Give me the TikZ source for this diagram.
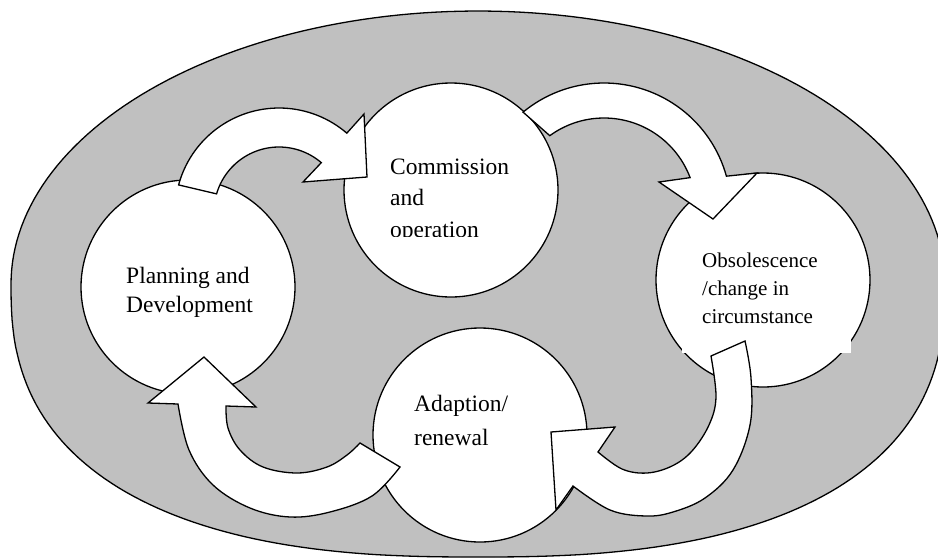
\documentclass[tikz,border=0pt]{standalone}
\usepackage{fontspec}
\setmainfont{Liberation Serif}
\definecolor{ringgray}{RGB}{192,192,192}
\begin{document}
\begin{tikzpicture}[x=1pt,y=-1pt,
  stage/.style={circle, draw=black, fill=white, line width=1.3pt, minimum size=214pt, inner sep=0pt},
  loop arrow/.style={draw=black, fill=white, line width=1.3pt, line join=miter},
  label text/.style={anchor=base west, inner sep=0pt, font=\fontsize{23.5}{28}\selectfont},
  small text/.style={label text, font=\fontsize{21}{25}\selectfont}]
\useasboundingbox (0,0) rectangle (938,558);

% outer grey ring: elliptic upper half, slightly fuller lower half
\draw[fill=ringgray, line width=1.3pt]
  plot[domain=180:360, samples=120, variable=\t] ({478+467*cos(\t)},{284+273*sin(\t)})
  -- plot[domain=0:180, samples=120, variable=\t]
     ({478+467*ifthenelse(cos(\t)<0,-1,1)*pow(abs(cos(\t))+0.000001,0.8)},
      {284+273*pow(abs(sin(\t))+0.000001,0.8)})
  -- cycle;

% the four stages
\node[stage] (plan)  at (188,287) {};
\node[stage] (comm)  at (451,190) {};
\node[stage] (obs)   at (763,280) {};
\node[stage] (adapt) at (480,435) {};

% white text frame of the obsolescence label
\fill[white] (682,240) rectangle (851,353);

% planning -> commission
\filldraw[loop arrow]
  plot[domain=195.1:310.7, samples=50, variable=\t] ({279+104*cos(\t)},{212+104*sin(\t)})
  -- (364,114) -- (367,177) -- (303,182)
  -- plot[domain=310.6:196.2, samples=50, variable=\t] ({279+65*cos(\t)},{212+65*sin(\t)})
  -- cycle;

% commission -> obsolescence
\filldraw[loop arrow]
  plot[domain=230.4:344.55, samples=50, variable=\t] ({604+127*cos(\t)},{210+127*sin(\t)})
  -- (757,173) -- (713,219) -- (659,182)
  -- plot[domain=339.4:233.9, samples=50, variable=\t] ({604+92*cos(\t)},{210+92*sin(\t)})
  -- cycle;

% obsolescence -> adaption
\filldraw[loop arrow]
  plot[smooth, tension=0.6] coordinates {(745,341) (751,378) (750,425) (733,470) (705,498) (673,512) (646,516) (610,510) (573,486)}
  -- (556,510) -- (551,432) -- (615,427)
  -- plot[smooth, tension=0.6] coordinates {(598,452) (622,469) (647,473) (672,466) (692,451) (709,425) (716,397) (711,356)}
  -- cycle;

% adaption -> planning
\filldraw[loop arrow]
  plot[smooth, tension=0.6] coordinates {(400,467) (372,496) (330,512) (290,517) (250,508) (213,485) (189,450) (178,404)}
  -- (148,403) -- (204,357) -- (256,407)
  -- plot[smooth, tension=0.6] coordinates {(226,406) (228,428) (240,450) (263,467) (297,473) (327,467) (347,455) (360,443)}
  -- cycle;

% labels
\node[label text] (comm1) at (390,174) {Commission};
\node[label text] (comm2) at (390,205) {and};
\begin{scope}
  \clip (380,212) rectangle (560,236);
  \node[label text] (comm3) at (390,237) {operation};
\end{scope}
\node[label text] (plan1) at (126,283) {Planning and};
\node[label text] (plan2) at (126,312) {Development};
\node[small text] (obs1) at (702,267) {Obsolescence};
\node[small text] (obs2) at (702,295) {/change in};
\node[small text] (obs3) at (702,323) {circumstance};
\node[label text] (adapt1) at (414,411) {Adaption/};
\node[label text] (adapt2) at (414,445) {renewal};
\end{tikzpicture}
\end{document}
